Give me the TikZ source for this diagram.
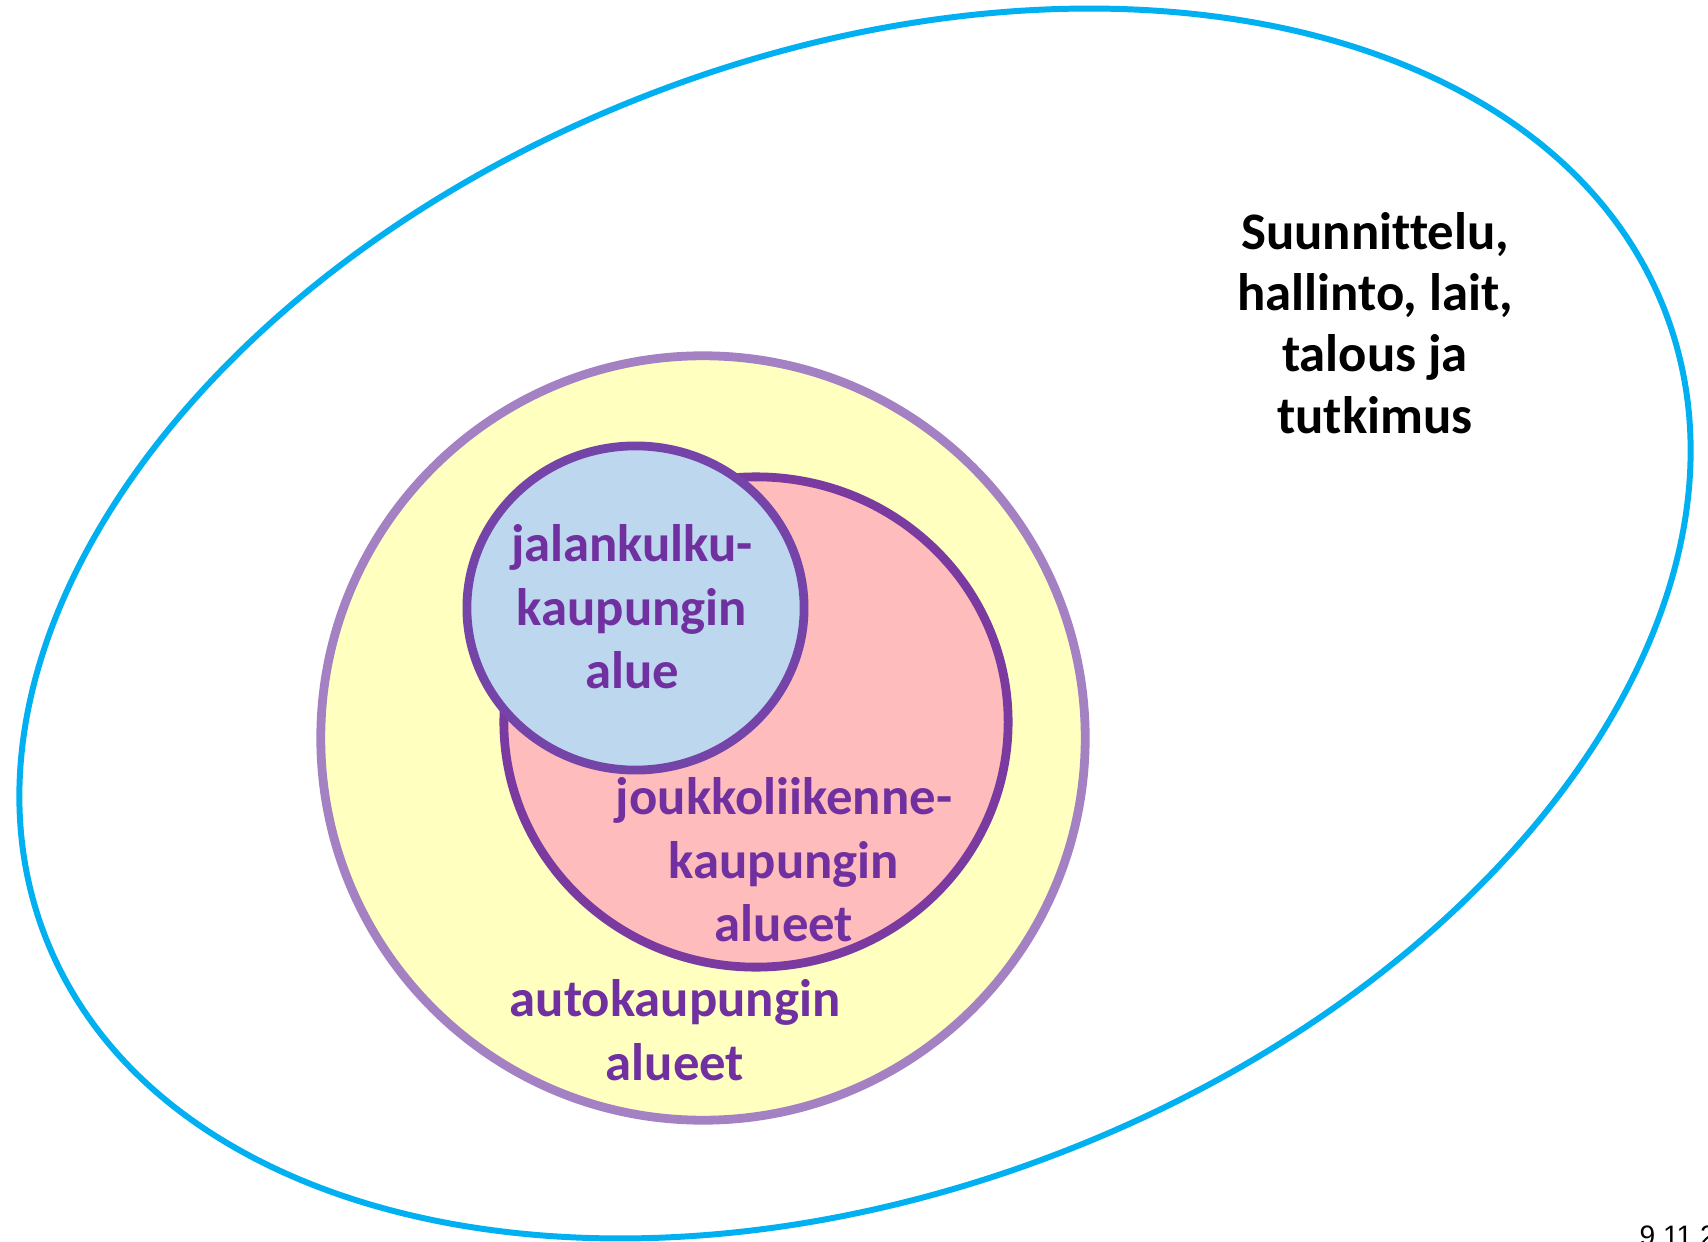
\documentclass[tikz,border=0pt]{standalone}
\usepackage{fontspec}
\setmainfont{Carlito}[Ligatures=NoCommon]
\newfontfamily\datefont{Liberation Sans}
\definecolor{outerblue}{HTML}{00B0F0}
\definecolor{yellowfill}{HTML}{FFFFC0}
\definecolor{yellowline}{HTML}{A381C2}
\definecolor{pinkfill}{HTML}{FFBCBC}
\definecolor{pinkline}{HTML}{7A3AA0}
\definecolor{bluefill}{HTML}{BDD7EE}
\definecolor{blueline}{HTML}{7444A8}
\definecolor{textpurple}{HTML}{7030A0}
\tikzset{
  blacklabel/.style={align=center, text=black, font=\bfseries\fontsize{15}{17.4}\selectfont, inner sep=0pt},
  purplelabel/.style={align=center, text=textpurple, font=\bfseries\fontsize{15}{18.1}\selectfont, inner sep=0pt},
  arealine/.style={line width=2.5pt}
}
\begin{document}
\begin{tikzpicture}[x=0.01cm, y=0.01cm]
  \useasboundingbox (0,0) rectangle (1708,1241);
  \fill[white] (0,0) rectangle (1708,1241);
  % outer tilted ellipse
  \draw[outerblue, line width=1.7pt, rotate around={21.07:(855,617.5)}]
    (855,617.5) ellipse [x radius=8.677cm, y radius=5.674cm];
  % car city
  \draw[arealine, draw=yellowline, fill=yellowfill] (703,503) circle [radius=3.82cm];
  % public transport city
  \draw[arealine, draw=pinkline, fill=pinkfill] (756,519) ellipse [x radius=2.52cm, y radius=2.45cm];
  % walking city
  \draw[arealine, draw=blueline, fill=bluefill] (635.5,633) ellipse [x radius=1.685cm, y radius=1.62cm];
  % labels
  \node[blacklabel] (gov) at (1375,918) {Suunnittelu,\\hallinto, lait,\\talous ja\\tutkimus};
  \node[purplelabel] (walk) at (632,634) {jalankulku-\\kaupungin\\alue};
  \node[purplelabel] (transit) at (784,381) {joukkoliikenne-\\kaupungin\\alueet};
  \node[purplelabel] (car) at (675,211) {autokaupungin\\alueet};
  \node[anchor=base west, inner sep=0pt, font=\datefont\fontsize{8}{9.6}\selectfont] (date) at (1639,-4) {9.11.2};
\end{tikzpicture}
\end{document}
